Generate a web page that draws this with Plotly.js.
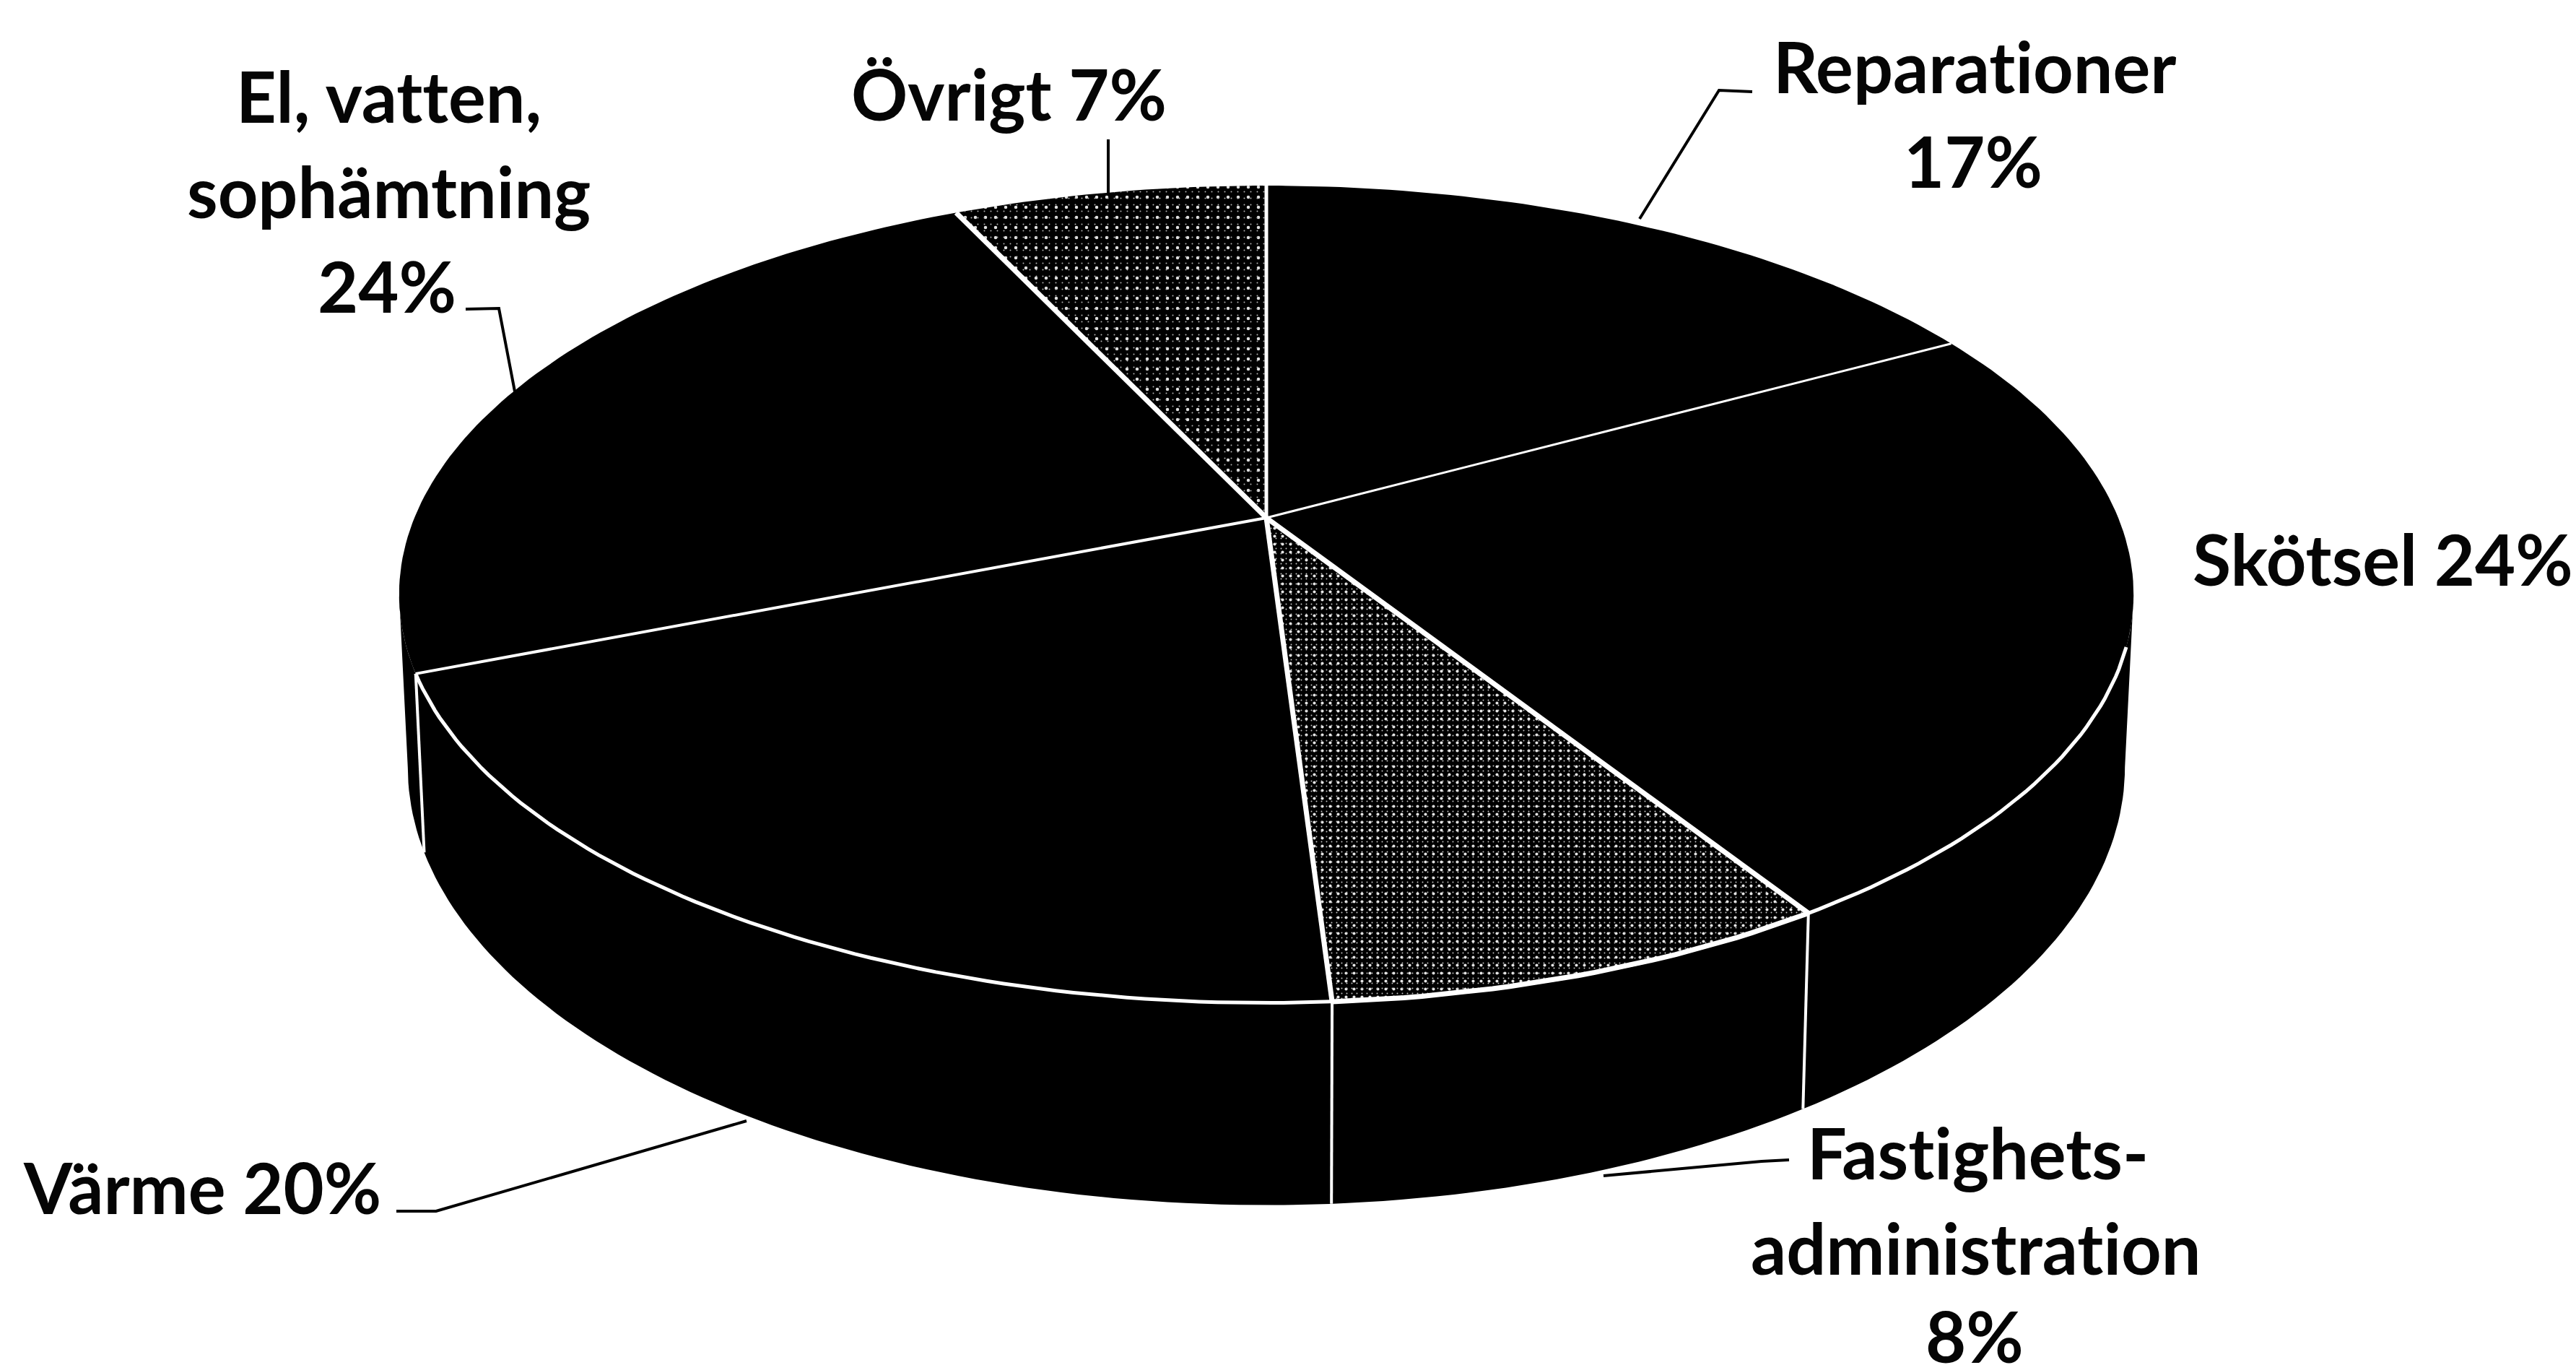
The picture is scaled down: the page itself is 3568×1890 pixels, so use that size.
<!DOCTYPE html>
<html>
<head>
<meta charset="utf-8">
<script src="https://cdn.plot.ly/plotly-3.0.1.min.js"></script>
<style>html,body{margin:0;padding:0;background:#fff}#chart{width:3568px;height:1890px}
text{font-variant-ligatures:none;font-feature-settings:"liga" 0}</style>
</head>
<body>
<div id="chart"></div>
<script>
// Data
const categories = ["Reparationer", "Skötsel", "Fastighetsadministration", "Värme", "El, vatten, sophämtning", "Övrigt"];
const shares = [17, 24, 8, 20, 24, 7];
const fills = ["black", "black", "halftone", "black", "black", "halftoneSparse"];
const spokeWidths = [3, 7, 7, 4, 7, 5];   // boundary at the END of each slice

// Labels, one entry per line: text, centre x, baseline y
const labelTexts = ["Reparationer", "17%", "Skötsel 24%", "Fastighets-", "administration", "8%", "Värme 20%", "El, vatten,", "sophämtning", "24%", "Övrigt 7%"];
const labelX = [2735, 2733, 3300, 2739, 2736, 2735, 280, 538, 538, 536, 1397];
const labelBase = [126, 257, 808, 1630, 1762, 1884, 1678, 167, 299, 430, 164];

// Leader lines
const leaders = [
  {x: [2271, 2381, 2427], y: [303, 125, 127]},
  {x: [645, 691, 713], y: [428, 427, 542]},
  {x: [1535, 1535], y: [193, 268]},
  {x: [549, 604, 1034], y: [1677, 1677, 1552]},
  {x: [2221, 2440, 2478], y: [1628, 1608, 1606]}
];

// Perspective of the disc (page pixels)
const cx = 1754, cy = 717, A = 1180, B = 546, k = 0.187;
const bottomScaleX = 0.99, bottomCy = 949, B2 = 585;
const rad = d => d * Math.PI / 180;
function rimTop(t) {
  const x = Math.sin(rad(t)), y = Math.cos(rad(t)), w = 1 + k * y;
  return [cx + A * x / w, cy - B * y / w];
}
function rimBot(t) {
  const x = Math.sin(rad(t)), y = Math.cos(rad(t)), w = 1 + k * y;
  return [cx + bottomScaleX * A * x / w, bottomCy - B2 * y / w];
}
function arc(fn, a, b) {
  const out = [], n = Math.max(2, Math.ceil(Math.abs(b - a)));
  for (let i = 0; i <= n; i++) out.push(fn(a + (b - a) * i / n));
  return out;
}
function pathLine(pts, color, width) {
  return {type: "scatter", mode: "lines", x: pts.map(p => p[0]), y: pts.map(p => p[1]),
          line: {color: color, width: width}, hoverinfo: "skip", showlegend: false};
}
function poly(pts, extra) {
  return Object.assign({type: "scatter", mode: "lines", x: pts.map(p => p[0]), y: pts.map(p => p[1]),
          fill: "toself", line: {width: 0, color: "black"}, fillcolor: "black", hoverinfo: "skip", showlegend: false}, extra || {});
}

const total = shares.reduce((a, b) => a + b, 0);
const bounds = [0];
shares.forEach(v => bounds.push(bounds[bounds.length - 1] + v / total * 360));

const traces = [];
// Side wall, from silhouette tip to silhouette tip
traces.push(poly(arc(rimTop, 100.8, 259.2).concat(arc(rimBot, 259.2, 100.8))));

// Top slices
const patterns = {
  halftone: [{shape: ".", size: 11, solidity: 0.11, fgcolor: "#e6e6e6", bgcolor: "black"},
             {shape: ".", size: 7, solidity: 0.06, fgcolor: "#c4c4c4", bgcolor: "rgba(0,0,0,0)"}],
  halftoneSparse: [{shape: ".", size: 14, solidity: 0.08, fgcolor: "#dedede", bgcolor: "black"},
                   {shape: ".", size: 9, solidity: 0.04, fgcolor: "#b0b0b0", bgcolor: "rgba(0,0,0,0)"}]
};
shares.forEach((v, i) => {
  const pts = [[cx, cy]].concat(arc(rimTop, bounds[i], bounds[i + 1]));
  pts.push([cx, cy]);
  const layers = patterns[fills[i]];
  if (layers) {
    layers.forEach(p => traces.push(poly(pts, {name: categories[i], fillcolor: "rgba(0,0,0,0)", fillpattern: p})));
  } else {
    traces.push(poly(pts, {name: categories[i]}));
  }
});

// Front rim
traces.push(pathLine(arc(rimTop, 108, bounds[4]), "white", 5));
traces.push(pathLine(arc(rimTop, bounds[2], bounds[3]), "white", 7));
// Wall seams at the boundaries on the visible front
[2, 3, 4].forEach(i => traces.push(pathLine([rimTop(bounds[i]), rimBot(bounds[i])], "white", 4)));
// Spokes
bounds.slice(1).forEach((b, i) => traces.push(pathLine([[cx, cy], rimTop(b)], "white", spokeWidths[i])));

// Leader lines
leaders.forEach(l => traces.push({type: "scatter", mode: "lines", x: l.x, y: l.y,
  line: {color: "black", width: 4}, hoverinfo: "skip", showlegend: false}));

const fontSize = 97;
const annotations = labelTexts.map((t, i) => ({
  text: t, x: labelX[i], y: labelBase[i] - fontSize * 0.36, xref: "x", yref: "y",
  xanchor: "center", yanchor: "middle", showarrow: false, borderpad: 0,
  font: {family: "Lato, Carlito, sans-serif", size: fontSize, weight: 700, color: "#050505"}
}));

const layout = {
  width: 3568, height: 1890,
  margin: {l: 0, r: 0, t: 0, b: 0},
  paper_bgcolor: "white", plot_bgcolor: "white",
  xaxis: {range: [0, 3568], visible: false, fixedrange: true},
  yaxis: {range: [1890, 0], visible: false, fixedrange: true},
  showlegend: false, hovermode: false,
  annotations: annotations
};
Plotly.newPlot("chart", traces, layout, {displayModeBar: false, staticPlot: true});
</script>
</body>
</html>
